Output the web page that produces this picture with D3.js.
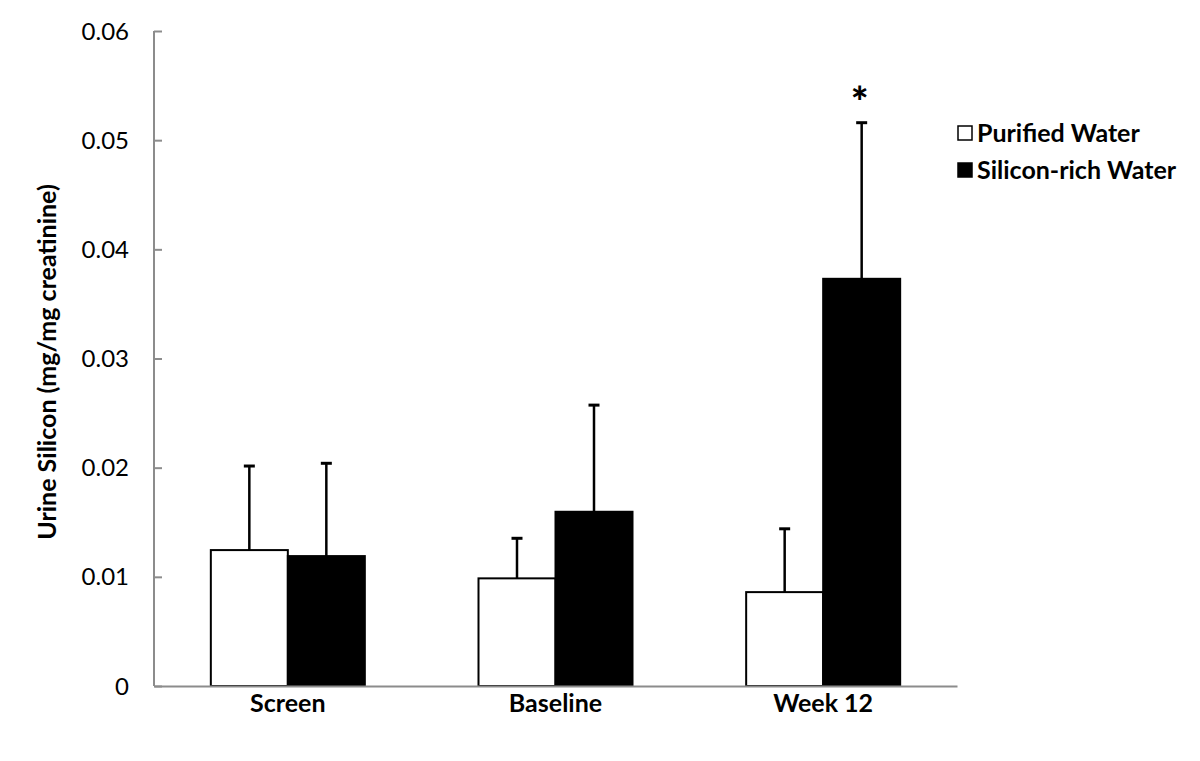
<!DOCTYPE html>
<html>
<head>
<meta charset="utf-8">
<script src="https://cdn.jsdelivr.net/npm/d3@7"></script>
<style>
  html, body { margin: 0; padding: 0; background: #fff; }
  svg { display: block; }
  text { font-family: Lato, "Open Sans", sans-serif; fill: #000; }
</style>
</head>
<body>
<svg id="chart" width="1200" height="761"></svg>
<script>
const categories = ["Screen", "Baseline", "Week 12"];
const seriesNames = ["Purified Water", "Silicon-rich Water"];
const purifiedMean = [0.01245, 0.00986, 0.0086];
const purifiedErr  = [0.00770, 0.00367, 0.0058];
const siliconMean  = [0.0119, 0.01596, 0.0373];
const siliconErr   = [0.0085, 0.00977, 0.0143];
const yTicks = [0, 0.01, 0.02, 0.03, 0.04, 0.05, 0.06];
const yTickLabels = ["0", "0.01", "0.02", "0.03", "0.04", "0.05", "0.06"];
const significance = ["", "", "*"];

const svg = d3.select("#chart");
const axisColor = "#8c8c8c";

const x = d3.scaleBand().domain(categories).range([154, 957]).padding(0);
const y = d3.scaleLinear().domain([0, 0.06]).range([686, 31]);
const barW = 77;

const data = [];
categories.forEach((c, i) => {
  data.push({cat: c, s: 0, mean: purifiedMean[i], err: purifiedErr[i]});
  data.push({cat: c, s: 1, mean: siliconMean[i], err: siliconErr[i]});
});
const bx = d => x(d.cat) + x.bandwidth() / 2 + (d.s === 0 ? -barW : 0);

// error bars
const eb = svg.append("g").attr("stroke", "#000").attr("stroke-width", 2.5);
eb.selectAll("line.v").data(data).join("line")
  .attr("x1", d => bx(d) + barW / 2).attr("x2", d => bx(d) + barW / 2)
  .attr("y1", d => y(d.mean)).attr("y2", d => y(d.mean + d.err));
eb.selectAll("line.c").data(data).join("line")
  .attr("x1", d => bx(d) + barW / 2 - 5.5).attr("x2", d => bx(d) + barW / 2 + 5.5)
  .attr("y1", d => y(d.mean + d.err)).attr("y2", d => y(d.mean + d.err))
  .attr("stroke-width", 3);

// bars
svg.append("g").selectAll("rect").data(data).join("rect")
  .attr("x", d => bx(d))
  .attr("y", d => y(d.mean))
  .attr("width", barW)
  .attr("height", d => y(0) - y(d.mean))
  .attr("fill", d => d.s === 0 ? "#fff" : "#000")
  .attr("stroke", "#000")
  .attr("stroke-width", 2);

// y axis
const yAxis = d3.axisRight(y).tickValues(yTicks).tickSize(8).tickFormat("");
const gy = svg.append("g").attr("transform", "translate(154,0)").call(yAxis);
gy.select(".domain").attr("stroke", axisColor).attr("stroke-width", 2).attr("d", `M0,${y(0.06)}V${y(0)}`);
gy.selectAll(".tick line").attr("stroke", axisColor).attr("stroke-width", 2);

svg.append("g").selectAll("text").data(yTicks).join("text")
  .attr("x", 129).attr("y", d => y(d))
  .attr("dy", "0.36em")
  .attr("text-anchor", "end")
  .attr("font-size", 24)
  .text((d, i) => yTickLabels[i]);

// x axis line
const xAxis = d3.axisBottom(x).tickSize(0).tickFormat("");
const gx = svg.append("g").attr("transform", `translate(0,${y(0)})`).call(xAxis);
gx.select(".domain").attr("stroke", axisColor).attr("stroke-width", 2);

svg.append("g").selectAll("text").data(categories).join("text")
  .attr("x", d => x(d) + x.bandwidth() / 2)
  .attr("y", 712)
  .attr("text-anchor", "middle")
  .attr("font-size", 25)
  .attr("font-weight", "bold")
  .text(d => d);

// significance
svg.append("g").selectAll("text").data(categories).join("text")
  .attr("x", d => x(d) + x.bandwidth() / 2 + barW / 2 - 2)
  .attr("y", (d, i) => y(siliconMean[i] + siliconErr[i]) - 6)
  .attr("text-anchor", "middle")
  .attr("font-size", 42)
  .attr("font-weight", "900")
  .text((d, i) => significance[i]);

// y label
svg.append("text")
  .attr("transform", "translate(56,362) rotate(-90)")
  .attr("text-anchor", "middle")
  .attr("font-size", 25)
  .attr("font-weight", "bold")
  .text("Urine Silicon (mg/mg creatinine)");

// legend
const lg = svg.append("g").selectAll("g").data(seriesNames).join("g")
  .attr("transform", (d, i) => `translate(958,${133 + i * 37})`);
lg.append("rect")
  .attr("x", 0).attr("y", -7).attr("width", 14).attr("height", 14)
  .attr("fill", (d, i) => i === 0 ? "#fff" : "#000")
  .attr("stroke", "#000").attr("stroke-width", 1.5);
lg.append("text")
  .attr("x", 19).attr("dy", "0.36em")
  .attr("font-size", 25)
  .attr("font-weight", "bold")
  .text(d => d);
</script>
</body>
</html>
